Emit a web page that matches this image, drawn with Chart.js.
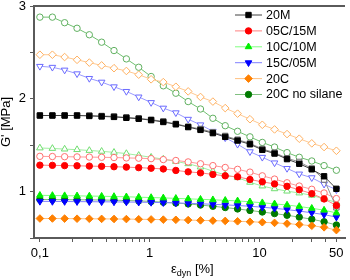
<!DOCTYPE html>
<html>
<head>
<meta charset="utf-8">
<script src="https://cdn.jsdelivr.net/npm/chart.js@4.4.0/dist/chart.umd.min.js"></script>
<style>
  html, body { margin: 0; padding: 0; background: #fff; }
</style>
</head>
<body>
<canvas id="gChart" width="350" height="280"></canvas>
<script>
// strain amplitude [%]
var strain = [0.1, 0.13, 0.168, 0.218, 0.282, 0.365, 0.473, 0.613, 0.794, 1.03, 1.33, 1.73, 2.24,
              2.9, 3.76, 4.87, 6.31, 8.18, 10.6, 13.7, 17.8, 23, 29.9, 38.7, 50.1];

// G' [MPa], filled symbols
var g20M   = [1.82, 1.82, 1.82, 1.82, 1.815, 1.81, 1.805, 1.795, 1.785, 1.77, 1.75, 1.725, 1.695, 1.665, 1.63, 1.59, 1.55, 1.51, 1.45, 1.41, 1.35, 1.30, 1.24, 1.165, 1.03];
var g05C   = [1.285, 1.283, 1.28, 1.278, 1.275, 1.272, 1.268, 1.264, 1.258, 1.252, 1.244, 1.228, 1.213, 1.202, 1.185, 1.17, 1.16, 1.13, 1.105, 1.083, 1.057, 1.02, 0.978, 0.921, 0.85];
var g10C   = [0.96, 0.958, 0.956, 0.954, 0.952, 0.95, 0.947, 0.944, 0.94, 0.936, 0.932, 0.927, 0.922, 0.917, 0.912, 0.906, 0.9, 0.89, 0.88, 0.868, 0.855, 0.84, 0.82, 0.8, 0.77];
var g15C   = [0.895, 0.894, 0.893, 0.892, 0.891, 0.89, 0.889, 0.888, 0.886, 0.884, 0.881, 0.878, 0.874, 0.869, 0.863, 0.857, 0.85, 0.842, 0.832, 0.82, 0.806, 0.79, 0.772, 0.752, 0.725];
var g20C   = [0.71, 0.71, 0.709, 0.708, 0.707, 0.706, 0.705, 0.704, 0.702, 0.7, 0.698, 0.696, 0.693, 0.69, 0.687, 0.684, 0.68, 0.675, 0.67, 0.663, 0.655, 0.645, 0.632, 0.615, 0.585];
var g20Cns = [0.915, 0.914, 0.913, 0.912, 0.911, 0.909, 0.907, 0.904, 0.9, 0.894, 0.886, 0.877, 0.867, 0.855, 0.842, 0.828, 0.813, 0.797, 0.78, 0.763, 0.745, 0.725, 0.702, 0.675, 0.64];

// G' [MPa], open symbols
var g20M_o   = [1.82, 1.82, 1.82, 1.82, 1.82, 1.815, 1.81, 1.80, 1.79, 1.775, 1.757, 1.73, 1.70, 1.675, 1.64, 1.60, 1.56, 1.52, 1.46, 1.42, 1.36, 1.32, 1.25, 1.13, 0.83];
var g05C_o   = [1.38, 1.378, 1.376, 1.374, 1.372, 1.37, 1.367, 1.363, 1.36, 1.355, 1.345, 1.335, 1.32, 1.30, 1.28, 1.26, 1.24, 1.21, 1.17, 1.135, 1.095, 1.06, 1.025, 0.985, 0.925];
var g10C_o   = [1.47, 1.465, 1.458, 1.452, 1.443, 1.434, 1.423, 1.41, 1.39, 1.37, 1.35, 1.325, 1.30, 1.265, 1.22, 1.18, 1.15, 1.1, 1.06, 1.03, 1.005, 0.985, 0.96, 0.92, 0.885];
var g15C_o   = [2.35, 2.34, 2.31, 2.27, 2.22, 2.18, 2.13, 2.08, 2.02, 1.96, 1.90, 1.85, 1.78, 1.72, 1.65, 1.58, 1.51, 1.43, 1.37, 1.31, 1.25, 1.19, 1.15, 1.08, 1.02];
var g20C_o   = [2.475, 2.475, 2.45, 2.42, 2.39, 2.36, 2.33, 2.30, 2.26, 2.21, 2.18, 2.13, 2.08, 2.02, 1.97, 1.90, 1.84, 1.78, 1.72, 1.67, 1.62, 1.57, 1.52, 1.48, 1.44];
var g20Cns_o = [2.88, 2.88, 2.82, 2.76, 2.69, 2.61, 2.52, 2.43, 2.34, 2.24, 2.14, 2.06, 1.97, 1.89, 1.79, 1.71, 1.65, 1.59, 1.53, 1.48, 1.42, 1.37, 1.33, 1.28, 1.23];

var seriesNames = ['20M', '05C/15M', '10C/10M', '15C/05M', '20C', '20C no silane'];
var xTicks = [0.1, 0.2, 0.3, 0.4, 0.5, 0.6, 0.7, 0.8, 0.9, 1, 2, 3, 4, 5, 6, 7, 8, 9, 10, 20, 30, 40, 50];
var xLabels = {0.1: '0,1', 1: '1', 10: '10', 50: '50'};
var yTicks = [0.5, 1, 1.5, 2, 2.5, 3];

var axisColor = '#5a5a5a';

function pts(ys) {
  return ys.map(function (v, i) { return {x: strain[i], y: v}; });
}

function series(label, ys, style, rot, radius, fill, border, line) {
  return {
    label: label,
    data: pts(ys),
    borderColor: line,
    borderWidth: 1,
    pointStyle: style,
    pointRotation: rot,
    pointRadius: radius,
    pointBackgroundColor: fill,
    pointBorderColor: border,
    pointBorderWidth: 1,
    tension: 0
  };
}

var filled = [
  series(seriesNames[0], g20M,   'rect',     0,   3.8, '#000000', '#000000', '#404040'),
  series(seriesNames[1], g05C,   'circle',   0,   3.2, '#ff0000', '#ff0000', '#ff8080'),
  series(seriesNames[2], g10C,   'triangle', 0,   3.8, '#00ee00', '#00ee00', '#80ff80'),
  series(seriesNames[3], g15C,   'triangle', 180, 3.8, '#0000ff', '#0000ff', '#8080ff'),
  series(seriesNames[4], g20C,   'rectRot',  0,   3.8, '#ff8000', '#ff8000', '#ffc080'),
  series(seriesNames[5], g20Cns, 'circle',   0,   3.2, '#007a00', '#007a00', '#80c080')
];

var open = [
  series('', g20M_o,   'rect',     0,   3.8, '#ffffff', '#707070', '#909090'),
  series('', g05C_o,   'circle',   0,   3.2, '#ffffff', '#ff7070', '#ff9a9a'),
  series('', g10C_o,   'triangle', 0,   3.8, '#ffffff', '#70dd70', '#a0eea0'),
  series('', g15C_o,   'triangle', 180, 3.8, '#ffffff', '#6a6aff', '#9a9aff'),
  series('', g20C_o,   'rectRot',  0,   3.8, '#ffffff', '#ffb060', '#ffc890'),
  series('', g20Cns_o, 'circle',   0,   3.2, '#ffffff', '#60b060', '#70c070')
];

// legend inside the plot, x title with subscript, top frame
var extras = {
  id: 'extras',
  afterDraw: function (chart) {
    var ctx = chart.ctx;
    var area = chart.chartArea;
    ctx.save();

    ctx.strokeStyle = axisColor;
    ctx.lineWidth = 2;
    ctx.beginPath();
    ctx.moveTo(area.left - 1, area.top);
    ctx.lineTo(area.right, area.top);
    ctx.stroke();

    // x axis title: eps_dyn [%]
    ctx.fillStyle = '#000';
    ctx.textBaseline = 'alphabetic';
    ctx.textAlign = 'left';
    ctx.font = '13px "Liberation Sans", Arial, sans-serif';
    var x0 = 171, yb = 273;
    ctx.fillText('\u03b5', x0, yb);
    var w = ctx.measureText('\u03b5').width;
    ctx.font = '9px "Liberation Sans", Arial, sans-serif';
    ctx.fillText('dyn', x0 + w, yb + 3);
    var w2 = ctx.measureText('dyn').width;
    ctx.font = '13px "Liberation Sans", Arial, sans-serif';
    ctx.fillText(' [%]', x0 + w + w2, yb);

    // legend
    var lx0 = 235, lx1 = 262, ly = 15, step = 15.9;
    ctx.font = '12.5px "Liberation Sans", Arial, sans-serif';
    ctx.textBaseline = 'middle';
    filled.forEach(function (ds, i) {
      var y = ly + i * step;
      ctx.strokeStyle = ds.borderColor;
      ctx.lineWidth = 1;
      ctx.beginPath();
      ctx.moveTo(lx0, y);
      ctx.lineTo(lx1, y);
      ctx.stroke();
      ctx.fillStyle = ds.pointBackgroundColor;
      ctx.strokeStyle = ds.pointBorderColor;
      Chart.helpers.drawPoint(ctx, {
        pointStyle: ds.pointStyle,
        rotation: ds.pointRotation,
        radius: ds.pointRadius,
        borderWidth: 1
      }, (lx0 + lx1) / 2, y);
      ctx.fillStyle = '#000';
      ctx.fillText(ds.label, 266, y + 0.5);
    });
    ctx.restore();
  }
};

var ctx = document.getElementById('gChart');
var gChart = new Chart(ctx, {
  type: 'line',
  data: { datasets: filled.concat(open) },
  options: {
    responsive: false,
    animation: false,
    devicePixelRatio: 1,
    layout: { padding: { top: 6, right: 0, left: 0, bottom: 0 } },
    plugins: {
      legend: { display: false },
      tooltip: { enabled: false }
    },
    scales: {
      x: {
        type: 'logarithmic',
        min: 0.0884,
        max: 60,
        afterBuildTicks: function (scale) {
          scale.ticks = xTicks.map(function (v) { return {value: v}; });
        },
        afterFit: function (scale) {
          scale.height = 42;
          scale.paddingLeft = 0;
          scale.paddingRight = 0;
        },
        ticks: {
          autoSkip: false,
          maxRotation: 0,
          padding: 4,
          color: '#000',
          font: { family: '"Liberation Sans", Arial, sans-serif', size: 13 },
          callback: function (value) {
            return xLabels[value] !== undefined ? xLabels[value] : '';
          }
        },
        grid: {
          drawOnChartArea: false,
          tickLength: 4,
          tickColor: axisColor,
          tickWidth: 1
        },
        border: { color: axisColor, width: 2 }
      },
      y: {
        type: 'linear',
        min: 0.5,
        max: 3,
        afterBuildTicks: function (scale) {
          scale.ticks = yTicks.map(function (v) { return {value: v}; });
        },
        afterFit: function (scale) {
          scale.width = 34;
          scale.paddingTop = 0;
          scale.paddingBottom = 0;
        },
        ticks: {
          padding: 4,
          color: '#000',
          font: { family: '"Liberation Sans", Arial, sans-serif', size: 13 },
          callback: function (value) {
            return Number.isInteger(value) ? String(value) : '';
          }
        },
        grid: {
          drawOnChartArea: false,
          tickLength: 4,
          tickColor: axisColor,
          tickWidth: 1
        },
        border: { color: axisColor, width: 2 },
        title: {
          display: true,
          text: "G' [MPa]",
          color: '#000',
          padding: 0,
          font: { family: '"Liberation Sans", Arial, sans-serif', size: 13, lineHeight: 1 }
        }
      }
    }
  },
  plugins: [extras]
});
</script>
</body>
</html>
